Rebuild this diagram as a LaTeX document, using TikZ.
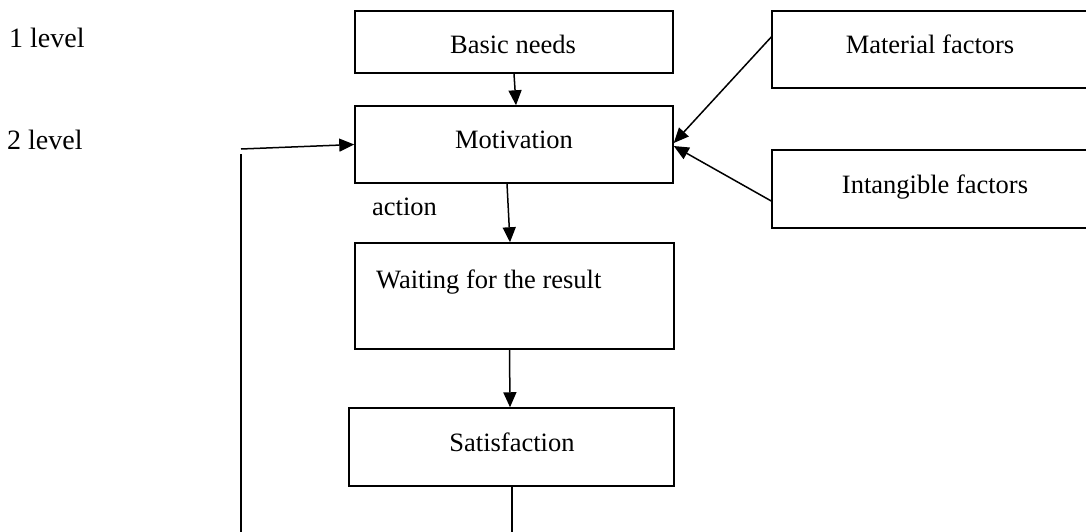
\documentclass[tikz,border=0pt]{standalone}
\usepackage{fontspec}
\setmainfont{Liberation Serif}
\usetikzlibrary{arrows.meta}
\begin{document}
\begin{tikzpicture}[x=1pt,y=-1pt,
  box/.style={draw,line width=1.5pt,inner sep=0pt,rectangle},
  txt/.style={inner sep=0pt,font=\fontsize{26.5}{30}\selectfont},
  lvl/.style={inner sep=0pt,font=\fontsize{28}{32}\selectfont,anchor=base west},
  conn/.style={line width=1.5pt},
  arr/.style={conn,-{Triangle[length=15pt,width=13pt]}}]
\clip (0,0) rectangle (1086,531);
\fill[white] (0,0) rectangle (1086,531);
% boxes
\node[box,minimum width=318pt,minimum height=62pt] (bn) at (514,42) {};
\node[box,minimum width=318pt,minimum height=77pt] (mot) at (514,144.5) {};
\node[box,minimum width=330pt,minimum height=77pt] (mat) at (937,49.5) {};
\node[box,minimum width=330pt,minimum height=78pt] (int) at (937,189) {};
\node[box,minimum width=319pt,minimum height=106pt] (wait) at (514.5,296) {};
\node[box,minimum width=325pt,minimum height=78pt] (sat) at (511.5,447) {};
% texts
\node[txt,anchor=base] (tbn) at (513,53) {Basic needs};
\node[txt,anchor=base] (tmot) at (514,148) {Motivation};
\node[txt,anchor=base] (tmat) at (930,53) {Material factors};
\node[txt,anchor=base] (tint) at (935,193) {Intangible factors};
\node[txt,anchor=base west] (twait) at (376,288) {Waiting for the result};
\node[txt,anchor=base] (tsat) at (512,451) {Satisfaction};
\node[txt,anchor=base west] (tact) at (372,215) {action};
\node[lvl] (l1) at (9,47) {1 level};
\node[lvl] (l2) at (7,149) {2 level};
% connectors
\draw[arr] (bn.south) -- ([xshift=2pt]mot.north);
\draw[arr] ([xshift=-7pt]mot.south) -- ([xshift=-4.5pt]wait.north);
\draw[arr] ([xshift=-5pt]wait.south) -- ([xshift=-1.5pt]sat.north);
\draw[arr] ([yshift=12.5pt]mat.west) -- ([yshift=1.5pt]mot.east);
\draw[arr] ([yshift=-12pt]int.west) -- ([yshift=-1.5pt]mot.east);
\coordinate (sb) at (512,540);
\coordinate (lb) at (241,540);
\coordinate (lv) at (241,154);
\coordinate (lt) at (241,149);
\draw[conn] ([xshift=0.5pt]sat.south) -- (sb);
\draw[conn] (lb) -- (lv);
\draw[arr] (lt) -- (mot.west);
\end{tikzpicture}
\end{document}
